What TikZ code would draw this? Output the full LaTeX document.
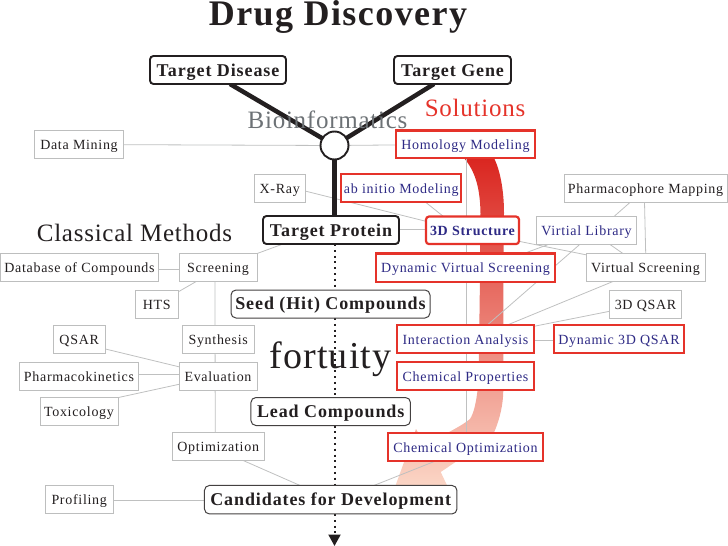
\documentclass[tikz,border=0pt]{standalone}
\usepackage{fontspec}
\setmainfont[LetterSpace=5]{Liberation Serif}
\usetikzlibrary{arrows.meta}
\pgfdeclarelayer{back}
\pgfsetlayers{back,main}
\definecolor{ink}{HTML}{231F20}
\definecolor{boxgray}{HTML}{BDBEBE}
\definecolor{linegray}{HTML}{BFC0C0}
\definecolor{solred}{HTML}{E5332A}
\definecolor{solblue}{HTML}{2E2A85}
\definecolor{biogray}{HTML}{6D7276}
\definecolor{ribtop}{HTML}{DA2620}
\definecolor{ribmid}{HTML}{EB8068}
\definecolor{ribbot}{HTML}{FBD6C6}
\newcommand{\boldtext}{\bfseries\addfontfeature{LetterSpace=5}\fontsize{18}{20}\selectfont}
\tikzset{
  x=1pt,y=-1pt,
  base/.style={inner sep=0pt,outer sep=0pt,fill=white,text=ink,text height=13pt,text depth=3pt,font=\fontsize{14}{16}\selectfont,anchor=center},
  graybox/.style={base,draw=boxgray,line width=0.9pt},
  redbox/.style={base,draw=solred,line width=2.2pt,text=solblue},
  bigbox/.style={base,draw=ink,line width=1.9pt,rounded corners=3.5pt,font=\boldtext,text height=16pt},
  stagebox/.style={base,draw=ink!85,line width=1pt,rounded corners=5pt,font=\boldtext,text height=15pt,text depth=3.5pt},
  heading/.style={inner sep=0pt,outer sep=0pt,anchor=base,text=ink,font=\addfontfeature{LetterSpace=3}\fontsize{25}{30}\selectfont},
  thin link/.style={draw=linegray,line width=0.8pt},
  thick link/.style={draw=ink,line width=4.5pt},
  dotted link/.style={draw=ink,line width=2pt,dash pattern=on 2pt off 3.8pt},
}
\begin{document}
\begin{tikzpicture}
\useasboundingbox (0,0) rectangle (728,546);

% headings
\node[heading,font=\bfseries\addfontfeature{LetterSpace=4}\fontsize{36}{40}\selectfont] (title) at (338,25.5) {Drug Discovery};
\node[heading,text=biogray] (bio) at (327.5,128) {Bioinformatics};
\node[heading,text=solred] (sol) at (475,116) {Solutions};
\node[heading] (classical) at (134.5,241.5) {Classical Methods};
\node[heading,font=\addfontfeature{LetterSpace=3}\fontsize{38}{44}\selectfont] (fort) at (330.5,368) {fortuity};

% main pipeline
\node[bigbox,minimum width=136pt,minimum height=28pt] (td) at (218,70) {Target Disease};
\node[bigbox,minimum width=117pt,minimum height=28pt] (tg) at (452.5,70) {Target Gene};
\node[circle,draw=ink,line width=1.9pt,fill=white,inner sep=0pt,outer sep=0pt,minimum size=28pt] (hub) at (334.5,145.5) {};
\node[bigbox,minimum width=136pt,minimum height=28pt] (tp) at (331,230) {Target Protein};
\node[stagebox,minimum width=199pt,minimum height=28pt] (seed) at (330.5,304) {Seed (Hit) Compounds};
\node[stagebox,minimum width=159.5pt,minimum height=28pt] (lead) at (330.7,411.5) {Lead Compounds};
\node[stagebox,minimum width=252.5pt,minimum height=28.5pt] (cand) at (330.7,499.7) {Candidates for Development};
\coordinate (end) at (334.5,546);

% classical boxes
\node[graybox,minimum width=89pt,minimum height=28pt] (dm) at (79,144.5) {Data Mining};
\node[graybox,minimum width=50.5pt,minimum height=28pt] (xray) at (279.7,188) {X-Ray};
\node[graybox,minimum width=158pt,minimum height=27.5pt] (db) at (79.5,267.3) {Database of Compounds};
\node[graybox,minimum width=78pt,minimum height=27.5pt] (scr) at (218,267.3) {Screening};
\node[graybox,minimum width=42.5pt,minimum height=28pt] (hts) at (156.7,304) {HTS};
\node[graybox,minimum width=52.5pt,minimum height=28pt] (qsar) at (79.2,339) {QSAR};
\node[graybox,minimum width=72.5pt,minimum height=28pt] (syn) at (218.2,339) {Synthesis};
\node[graybox,minimum width=78pt,minimum height=27.5pt] (eval) at (218,376.3) {Evaluation};
\node[graybox,minimum width=119pt,minimum height=28pt] (pk) at (79,376) {Pharmacokinetics};
\node[graybox,minimum width=78pt,minimum height=28pt] (tox) at (79,411.5) {Toxicology};
\node[graybox,minimum width=91.5pt,minimum height=28pt] (opt) at (218.2,446.5) {Optimization};
\node[graybox,minimum width=67.5pt,minimum height=27.5pt] (prof) at (79.2,499.3) {Profiling};

% right gray boxes
\node[graybox,minimum width=163pt,minimum height=28pt] (pharm) at (645.5,188) {Pharmacophore Mapping};
\node[graybox,minimum width=119pt,minimum height=27.5pt] (vs) at (645.5,267.3) {Virtual Screening};
\node[graybox,minimum width=72pt,minimum height=28pt] (tq) at (645.5,304) {3D QSAR};
\node[graybox,text=solblue,minimum width=100pt,minimum height=28pt] (vl) at (586.5,230.5) {Virtial Library};

% solutions
\node[redbox,minimum width=139pt,minimum height=27.5pt] (hom) at (465.5,144.3) {Homology Modeling};
\node[redbox,minimum width=120pt,minimum height=28pt] (abi) at (401.3,188) {ab initio Modeling};
\node[redbox,rounded corners=3pt,font=\bfseries\fontsize{14}{16}\selectfont,minimum width=93pt,minimum height=27.5pt] (st) at (472.5,230.3) {3D Structure};
\node[redbox,minimum width=179pt,minimum height=28.5pt] (dvs) at (465.5,267.7) {Dynamic Virtual Screening};
\node[redbox,minimum width=137pt,minimum height=28pt] (ia) at (465.5,339) {Interaction Analysis};
\node[redbox,minimum width=130pt,minimum height=28pt] (dq) at (619,339) {Dynamic 3D QSAR};
\node[redbox,minimum width=137pt,minimum height=28pt] (cp) at (465.5,376) {Chemical Properties};
\node[redbox,minimum width=155pt,minimum height=28pt] (co) at (465.5,447) {Chemical Optimization};

\begin{pgfonlayer}{back}
  % broad arrow of the solutions route
  \shade[top color=ribtop,middle color=ribmid,bottom color=ribbot,shading angle=0]
    (464,158) .. controls (474,170) and (480,185) .. (480.5,213)
    -- (479.7,300) -- (478.5,380)
    .. controls (477,400) and (474,413) .. (470,419)
    .. controls (464,424) and (458,427) .. (451,431)
    -- (425,445) -- (416,429) -- (395,487) -- (447.8,487) -- (440.7,472)
    -- (457,461)
    .. controls (476,450) and (488,445) .. (494.7,431)
    .. controls (500,418) and (503,405) .. (503.3,391)
    -- (503.3,283) -- (504,213)
    .. controls (504,190) and (500,170) .. (494,158) -- cycle;

  % thin connectors
  \draw[thin link] (dm) -- (hub);
  \draw[thin link] (hub) -- (hom);
  \draw[thin link] ([xshift=0.5pt]hom.south) -- ([xshift=0.5pt]co.north);
  \draw[thin link] (xray.east |- 0,191) -- ([yshift=9pt]st.west);
  \draw[thin link] ([xshift=24pt]abi.south) -- ([xshift=-29pt]st.north);
  \draw[thin link] (tp.east |- 0,229) -- (st.west |- 0,229);
  \draw[thin link] ([yshift=-11pt]st.east) -- ([yshift=12.5pt]vs.west);
  \draw[thin link] ([xshift=-48pt]tp.south) -- (scr.north east);
  \draw[thin link] (db.east |- 0,269) -- (scr.west |- 0,269);
  \draw[thin link] ([xshift=-21pt]scr.south) -- ([yshift=12pt]hts.east);
  \draw[thin link] ([xshift=-3pt]scr.south) -- ([xshift=-3pt]opt.north);
  \draw[thin link] ([yshift=-10pt]qsar.east) -- ([yshift=9.5pt]eval.west);
  \draw[thin link] (pk.east |- 0,374) -- (eval.west |- 0,374);
  \draw[thin link] ([xshift=39.5pt,yshift=0pt]tox.north) -- ([yshift=-8pt]eval.west);
  \draw[thin link] ([xshift=25pt]opt.south) -- ([xshift=-30.7pt]cand.north);
  \draw[thin link] (prof.east |- 0,500.5) -- (cand.west |- 0,500.5);
  \draw[thin link] ([xshift=-30pt]co.south) -- ([xshift=43.3pt]cand.north);
  \draw[thin link] ([xshift=-15pt]pharm.south) -- ([xshift=27.5pt]vl.north);
  \draw[thin link] ([xshift=-1pt]pharm.south) -- ([xshift=0.2pt]vs.north);
  \draw[thin link] ([xshift=23.5pt]vl.south) -- ([xshift=-22.5pt]vs.north);
  \draw[thin link] ([xshift=-38.2pt]vl.south) -- ([xshift=58.5pt]dvs.north);
  \draw[thin link] ([xshift=-6.8pt]vl.south) -- ([xshift=21.8pt]ia.north);
  \draw[thin link] ([xshift=-31.5pt]vs.south) -- ([xshift=41.8pt]ia.north);
  \draw[thin link] ([yshift=-7.3pt]tq.west) -- ([yshift=12.7pt]ia.east);
  \draw[thin link] (ia.east |- 0,340.5) -- (dq.west |- 0,340.5);

  % thick trunk
  \draw[thick link] ([xshift=12pt]td.south) -- (hub);
  \draw[thick link] ([xshift=-18.5pt]tg.south) -- (hub);
  \draw[thick link] (hub.south) -- (hub.south |- tp.north);

  % dotted course
  \draw[dotted link] (hub.south |- tp.south) -- (hub.south |- seed.north);
  \draw[dotted link] (hub.south |- seed.south) -- (hub.south |- lead.north);
  \draw[dotted link] (hub.south |- lead.south) -- (hub.south |- cand.north);
  \draw[dotted link,-{Triangle[width=12pt,length=11.5pt,sep=0pt]}] (hub.south |- cand.south) -- (end);
\end{pgfonlayer}
\end{tikzpicture}
\end{document}
